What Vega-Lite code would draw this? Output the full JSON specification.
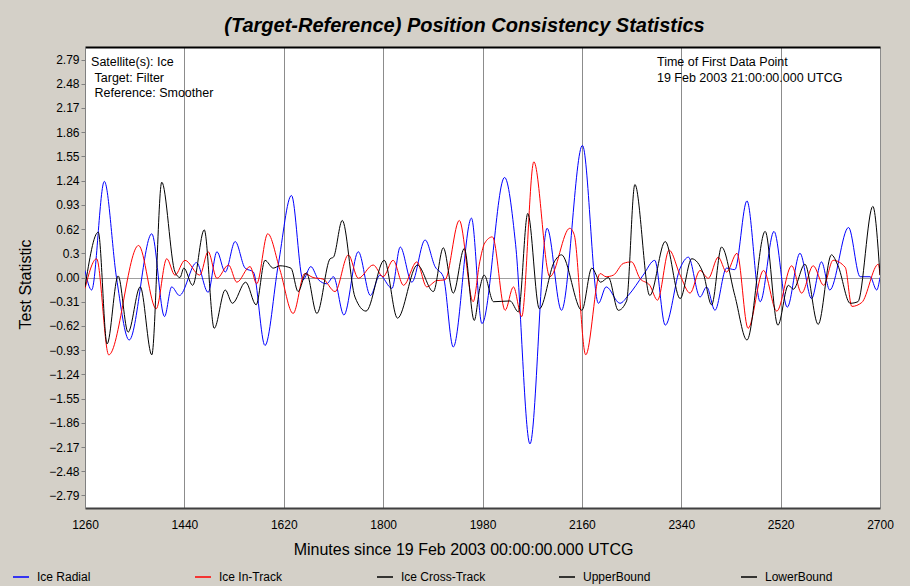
{
  "$schema": "https://vega.github.io/schema/vega-lite/v6.json",
  "width": 795,
  "height": 461,
  "autosize": {"type": "none"},
  "padding": {"left": 85, "top": 47, "right": 30, "bottom": 78},
  "background": "#d4d0c8",
  "config": {
    "font": "Liberation Sans",
    "view": {"fill": "#ffffff", "stroke": null},
    "axis": {"labelFont": "Liberation Sans", "titleFont": "Liberation Sans", "labelColor": "#000000", "titleColor": "#000000", "titleFontWeight": "normal"}
  },
  "title": {"text": "(Target-Reference) Position Consistency Statistics", "font": "Liberation Sans", "fontSize": 20, "fontWeight": "bold", "fontStyle": "italic", "color": "#000000", "anchor": "middle", "frame": "group", "offset": 11, "dx": -18},
  "resolve": {"axis": {"x": "independent", "y": "independent"}},
  "layer": [
    {
      "data": {"values": [
        {"s":"Ice Radial","t":1260,"v":0.09},{"s":"Ice Radial","t":1272,"v":-0.16},{"s":"Ice Radial","t":1295,"v":1.23},{"s":"Ice Radial","t":1317,"v":0.0},{"s":"Ice Radial","t":1340,"v":-0.8},{"s":"Ice Radial","t":1381,"v":0.56},{"s":"Ice Radial","t":1404,"v":-0.5},{"s":"Ice Radial","t":1417,"v":-0.12},{"s":"Ice Radial","t":1431,"v":-0.23},{"s":"Ice Radial","t":1462,"v":0.19},{"s":"Ice Radial","t":1483,"v":-0.19},{"s":"Ice Radial","t":1499,"v":0.33},{"s":"Ice Radial","t":1514,"v":0.07},{"s":"Ice Radial","t":1532,"v":0.46},{"s":"Ice Radial","t":1550,"v":0.12},{"s":"Ice Radial","t":1565,"v":0.07},{"s":"Ice Radial","t":1586,"v":-0.87},{"s":"Ice Radial","t":1610,"v":0.16},{"s":"Ice Radial","t":1634,"v":1.05},{"s":"Ice Radial","t":1655,"v":-0.03},{"s":"Ice Radial","t":1669,"v":0.14},{"s":"Ice Radial","t":1683,"v":-0.03},{"s":"Ice Radial","t":1698,"v":-0.08},{"s":"Ice Radial","t":1710,"v":0.01},{"s":"Ice Radial","t":1729,"v":-0.48},{"s":"Ice Radial","t":1755,"v":0.33},{"s":"Ice Radial","t":1777,"v":-0.23},{"s":"Ice Radial","t":1794,"v":0.03},{"s":"Ice Radial","t":1816,"v":-0.14},{"s":"Ice Radial","t":1831,"v":0.39},{"s":"Ice Radial","t":1852,"v":-0.06},{"s":"Ice Radial","t":1876,"v":0.48},{"s":"Ice Radial","t":1894,"v":0.14},{"s":"Ice Radial","t":1909,"v":0.01},{"s":"Ice Radial","t":1927,"v":-0.89},{"s":"Ice Radial","t":1960,"v":0.76},{"s":"Ice Radial","t":1979,"v":-0.59},{"s":"Ice Radial","t":2020,"v":1.28},{"s":"Ice Radial","t":2040,"v":0.42},{"s":"Ice Radial","t":2066,"v":-2.13},{"s":"Ice Radial","t":2097,"v":0.63},{"s":"Ice Radial","t":2123,"v":-0.42},{"s":"Ice Radial","t":2161,"v":1.69},{"s":"Ice Radial","t":2190,"v":-0.33},{"s":"Ice Radial","t":2204,"v":-0.12},{"s":"Ice Radial","t":2229,"v":-0.33},{"s":"Ice Radial","t":2244,"v":-0.23},{"s":"Ice Radial","t":2271,"v":0.03},{"s":"Ice Radial","t":2292,"v":0.22},{"s":"Ice Radial","t":2311,"v":-0.61},{"s":"Ice Radial","t":2338,"v":0.12},{"s":"Ice Radial","t":2353,"v":0.26},{"s":"Ice Radial","t":2374,"v":-0.25},{"s":"Ice Radial","t":2386,"v":-0.12},{"s":"Ice Radial","t":2401,"v":-0.42},{"s":"Ice Radial","t":2422,"v":0.12},{"s":"Ice Radial","t":2437,"v":0.1},{"s":"Ice Radial","t":2459,"v":0.98},{"s":"Ice Radial","t":2483,"v":-0.31},{"s":"Ice Radial","t":2508,"v":0.59},{"s":"Ice Radial","t":2532,"v":-0.38},{"s":"Ice Radial","t":2555,"v":0.31},{"s":"Ice Radial","t":2576,"v":-0.27},{"s":"Ice Radial","t":2594,"v":0.2},{"s":"Ice Radial","t":2609,"v":-0.16},{"s":"Ice Radial","t":2643,"v":0.64},{"s":"Ice Radial","t":2664,"v":0.01},{"s":"Ice Radial","t":2682,"v":0.01},{"s":"Ice Radial","t":2694,"v":-0.16},{"s":"Ice Radial","t":2700,"v":0.0},
        {"s":"Ice In-Track","t":1260,"v":-0.14},{"s":"Ice In-Track","t":1281,"v":0.24},{"s":"Ice In-Track","t":1303,"v":-0.99},{"s":"Ice In-Track","t":1357,"v":0.41},{"s":"Ice In-Track","t":1389,"v":-0.4},{"s":"Ice In-Track","t":1408,"v":0.24},{"s":"Ice In-Track","t":1423,"v":0.03},{"s":"Ice In-Track","t":1441,"v":0.22},{"s":"Ice In-Track","t":1468,"v":0.03},{"s":"Ice In-Track","t":1483,"v":0.33},{"s":"Ice In-Track","t":1499,"v":-0.01},{"s":"Ice In-Track","t":1520,"v":0.16},{"s":"Ice In-Track","t":1535,"v":-0.06},{"s":"Ice In-Track","t":1559,"v":0.14},{"s":"Ice In-Track","t":1571,"v":-0.08},{"s":"Ice In-Track","t":1591,"v":0.56},{"s":"Ice In-Track","t":1613,"v":0.1},{"s":"Ice In-Track","t":1637,"v":-0.46},{"s":"Ice In-Track","t":1658,"v":0.05},{"s":"Ice In-Track","t":1673,"v":0.0},{"s":"Ice In-Track","t":1691,"v":-0.02},{"s":"Ice In-Track","t":1713,"v":-0.18},{"s":"Ice In-Track","t":1737,"v":0.29},{"s":"Ice In-Track","t":1755,"v":-0.01},{"s":"Ice In-Track","t":1782,"v":0.16},{"s":"Ice In-Track","t":1800,"v":0.01},{"s":"Ice In-Track","t":1818,"v":0.22},{"s":"Ice In-Track","t":1837,"v":-0.1},{"s":"Ice In-Track","t":1861,"v":0.2},{"s":"Ice In-Track","t":1879,"v":-0.12},{"s":"Ice In-Track","t":1897,"v":-0.04},{"s":"Ice In-Track","t":1912,"v":-0.03},{"s":"Ice In-Track","t":1938,"v":0.73},{"s":"Ice In-Track","t":1963,"v":-0.31},{"s":"Ice In-Track","t":1975,"v":0.2},{"s":"Ice In-Track","t":1984,"v":0.44},{"s":"Ice In-Track","t":1998,"v":0.52},{"s":"Ice In-Track","t":2021,"v":-0.42},{"s":"Ice In-Track","t":2036,"v":-0.12},{"s":"Ice In-Track","t":2051,"v":-0.5},{"s":"Ice In-Track","t":2073,"v":1.48},{"s":"Ice In-Track","t":2102,"v":0.01},{"s":"Ice In-Track","t":2138,"v":0.63},{"s":"Ice In-Track","t":2146,"v":0.55},{"s":"Ice In-Track","t":2167,"v":-0.99},{"s":"Ice In-Track","t":2193,"v":0.05},{"s":"Ice In-Track","t":2204,"v":0.01},{"s":"Ice In-Track","t":2217,"v":0.03},{"s":"Ice In-Track","t":2235,"v":0.18},{"s":"Ice In-Track","t":2250,"v":0.2},{"s":"Ice In-Track","t":2265,"v":-0.01},{"s":"Ice In-Track","t":2283,"v":-0.1},{"s":"Ice In-Track","t":2297,"v":-0.29},{"s":"Ice In-Track","t":2318,"v":0.35},{"s":"Ice In-Track","t":2338,"v":0.03},{"s":"Ice In-Track","t":2356,"v":-0.2},{"s":"Ice In-Track","t":2374,"v":0.09},{"s":"Ice In-Track","t":2389,"v":-0.01},{"s":"Ice In-Track","t":2407,"v":0.26},{"s":"Ice In-Track","t":2422,"v":0.07},{"s":"Ice In-Track","t":2441,"v":0.31},{"s":"Ice In-Track","t":2461,"v":-0.65},{"s":"Ice In-Track","t":2489,"v":0.09},{"s":"Ice In-Track","t":2513,"v":-0.43},{"s":"Ice In-Track","t":2540,"v":0.15},{"s":"Ice In-Track","t":2558,"v":-0.2},{"s":"Ice In-Track","t":2579,"v":0.15},{"s":"Ice In-Track","t":2598,"v":-0.1},{"s":"Ice In-Track","t":2615,"v":0.22},{"s":"Ice In-Track","t":2637,"v":0.13},{"s":"Ice In-Track","t":2649,"v":-0.37},{"s":"Ice In-Track","t":2667,"v":-0.32},{"s":"Ice In-Track","t":2697,"v":0.17},{"s":"Ice In-Track","t":2700,"v":0.03},
        {"s":"Ice Cross-Track","t":1260,"v":-0.12},{"s":"Ice Cross-Track","t":1284,"v":0.58},{"s":"Ice Cross-Track","t":1300,"v":-0.85},{"s":"Ice Cross-Track","t":1320,"v":0.02},{"s":"Ice Cross-Track","t":1338,"v":-0.7},{"s":"Ice Cross-Track","t":1360,"v":-0.12},{"s":"Ice Cross-Track","t":1381,"v":-0.99},{"s":"Ice Cross-Track","t":1399,"v":1.22},{"s":"Ice Cross-Track","t":1423,"v":0.07},{"s":"Ice Cross-Track","t":1432,"v":0.0},{"s":"Ice Cross-Track","t":1439,"v":0.12},{"s":"Ice Cross-Track","t":1455,"v":-0.1},{"s":"Ice Cross-Track","t":1476,"v":0.61},{"s":"Ice Cross-Track","t":1494,"v":-0.65},{"s":"Ice Cross-Track","t":1514,"v":-0.16},{"s":"Ice Cross-Track","t":1527,"v":-0.33},{"s":"Ice Cross-Track","t":1551,"v":-0.06},{"s":"Ice Cross-Track","t":1570,"v":-0.35},{"s":"Ice Cross-Track","t":1586,"v":0.22},{"s":"Ice Cross-Track","t":1601,"v":0.12},{"s":"Ice Cross-Track","t":1613,"v":0.15},{"s":"Ice Cross-Track","t":1633,"v":0.12},{"s":"Ice Cross-Track","t":1646,"v":-0.18},{"s":"Ice Cross-Track","t":1661,"v":0.06},{"s":"Ice Cross-Track","t":1680,"v":-0.46},{"s":"Ice Cross-Track","t":1704,"v":0.24},{"s":"Ice Cross-Track","t":1710,"v":0.26},{"s":"Ice Cross-Track","t":1726,"v":0.73},{"s":"Ice Cross-Track","t":1749,"v":-0.25},{"s":"Ice Cross-Track","t":1769,"v":-0.43},{"s":"Ice Cross-Track","t":1802,"v":0.22},{"s":"Ice Cross-Track","t":1826,"v":-0.52},{"s":"Ice Cross-Track","t":1862,"v":0.16},{"s":"Ice Cross-Track","t":1891,"v":-0.18},{"s":"Ice Cross-Track","t":1909,"v":0.38},{"s":"Ice Cross-Track","t":1927,"v":-0.2},{"s":"Ice Cross-Track","t":1947,"v":0.37},{"s":"Ice Cross-Track","t":1965,"v":-0.55},{"s":"Ice Cross-Track","t":1975,"v":-0.14},{"s":"Ice Cross-Track","t":1983,"v":0.03},{"s":"Ice Cross-Track","t":2000,"v":-0.31},{"s":"Ice Cross-Track","t":2030,"v":-0.3},{"s":"Ice Cross-Track","t":2045,"v":-0.44},{"s":"Ice Cross-Track","t":2062,"v":0.82},{"s":"Ice Cross-Track","t":2083,"v":-0.4},{"s":"Ice Cross-Track","t":2110,"v":0.2},{"s":"Ice Cross-Track","t":2123,"v":0.29},{"s":"Ice Cross-Track","t":2160,"v":-0.42},{"s":"Ice Cross-Track","t":2178,"v":0.12},{"s":"Ice Cross-Track","t":2194,"v":-0.06},{"s":"Ice Cross-Track","t":2208,"v":0.0},{"s":"Ice Cross-Track","t":2226,"v":-0.42},{"s":"Ice Cross-Track","t":2241,"v":-0.3},{"s":"Ice Cross-Track","t":2256,"v":1.19},{"s":"Ice Cross-Track","t":2283,"v":-0.23},{"s":"Ice Cross-Track","t":2311,"v":0.46},{"s":"Ice Cross-Track","t":2338,"v":-0.27},{"s":"Ice Cross-Track","t":2359,"v":0.24},{"s":"Ice Cross-Track","t":2380,"v":0.05},{"s":"Ice Cross-Track","t":2395,"v":-0.35},{"s":"Ice Cross-Track","t":2413,"v":0.39},{"s":"Ice Cross-Track","t":2437,"v":-0.23},{"s":"Ice Cross-Track","t":2459,"v":-0.8},{"s":"Ice Cross-Track","t":2492,"v":0.59},{"s":"Ice Cross-Track","t":2515,"v":-0.61},{"s":"Ice Cross-Track","t":2534,"v":-0.1},{"s":"Ice Cross-Track","t":2543,"v":-0.15},{"s":"Ice Cross-Track","t":2564,"v":0.17},{"s":"Ice Cross-Track","t":2588,"v":-0.6},{"s":"Ice Cross-Track","t":2612,"v":0.29},{"s":"Ice Cross-Track","t":2624,"v":0.15},{"s":"Ice Cross-Track","t":2646,"v":-0.33},{"s":"Ice Cross-Track","t":2660,"v":-0.31},{"s":"Ice Cross-Track","t":2687,"v":0.91},{"s":"Ice Cross-Track","t":2700,"v":0.03}
      ]},
      "mark": {"type": "line", "interpolate": "monotone", "strokeWidth": 1, "clip": true},
      "encoding": {
        "x": {"field": "t", "type": "quantitative", "scale": {"domain": [1260, 2700], "nice": false, "zero": false},
          "axis": {"orient": "bottom", "title": "Minutes since 19 Feb 2003 00:00:00.000 UTCG", "titleFontSize": 16, "titleX": 378, "titleY": 41, "titleBaseline": "middle", "values": [1260, 1440, 1620, 1800, 1980, 2160, 2340, 2520, 2700], "format": "d", "labelFontSize": 12, "labelPadding": 11, "labelOverlap": false, "ticks": false, "grid": true, "gridColor": "#8c8c8c", "gridWidth": 1, "domainColor": "#404040", "domainWidth": 2, "labelFlush": false}},
        "y": {"field": "v", "type": "quantitative", "scale": {"domain": [-2.95, 2.95], "nice": false, "zero": false},
          "axis": {"orient": "left", "title": "Test Statistic", "titleFontSize": 16, "titleX": -60, "titleY": 237, "titleBaseline": "middle", "titleAngle": -90, "values": [-2.79, -2.48, -2.17, -1.86, -1.55, -1.24, -0.93, -0.62, -0.31, 0, 0.31, 0.62, 0.93, 1.24, 1.55, 1.86, 2.17, 2.48, 2.79], "labelExpr": "datum.value == 0.31 ? '0.3' : format(datum.value, '.2f')", "labelFontSize": 12, "labelPadding": 2, "labelOverlap": false, "tickSize": 4, "tickColor": "#808080", "grid": true, "gridColor": "#a0a0a0", "gridWidth": 1, "gridOpacity": {"condition": {"test": "datum.value == 0", "value": 1}, "value": 0}, "domainColor": "#808080", "domainWidth": 1}},
        "color": {"field": "s", "type": "nominal",
          "scale": {"domain": ["Ice Radial", "Ice In-Track", "Ice Cross-Track", "UpperBound", "LowerBound"], "range": ["#0000ff", "#ff0000", "#000000", "#000000", "#000000"]},
          "legend": {"title": null, "orient": "none", "legendX": -73, "legendY": 521, "direction": "horizontal", "columns": 5, "gridAlign": "all", "columnPadding": 70, "symbolType": "stroke", "symbolSize": 256, "symbolStrokeWidth": 1.5, "labelFontSize": 12, "labelFont": "Liberation Sans", "labelColor": "#000000", "labelOffset": 7, "labelLimit": 200}}
      }
    },
    {
      "data": {"values": [{"label": "left"}]},
      "mark": {"type": "text", "align": "left", "baseline": "top", "font": "Liberation Sans", "fontSize": 12.5, "lineHeight": 15.5, "color": "#000000"},
      "encoding": {
        "x": {"datum": 1271, "type": "quantitative", "axis": {"orient": "top", "labels": false, "ticks": false, "grid": false, "title": null, "domainColor": "#000000", "domainWidth": 2}},
        "y": {"datum": 2.83, "type": "quantitative", "axis": null},
        "text": {"value": ["Satellite(s): Ice", "\u200b\u00a0Target: Filter", "\u200b\u00a0Reference: Smoother"]}
      }
    },
    {
      "data": {"values": [{"label": "right"}]},
      "mark": {"type": "text", "align": "left", "baseline": "top", "font": "Liberation Sans", "fontSize": 12.5, "lineHeight": 15.5, "color": "#000000"},
      "encoding": {
        "x": {"datum": 2296, "type": "quantitative", "axis": null},
        "y": {"datum": 2.83, "type": "quantitative", "axis": null},
        "text": {"value": ["Time of First Data Point", "19 Feb 2003 21:00:00.000 UTCG"]}
      }
    }
  ]
}
